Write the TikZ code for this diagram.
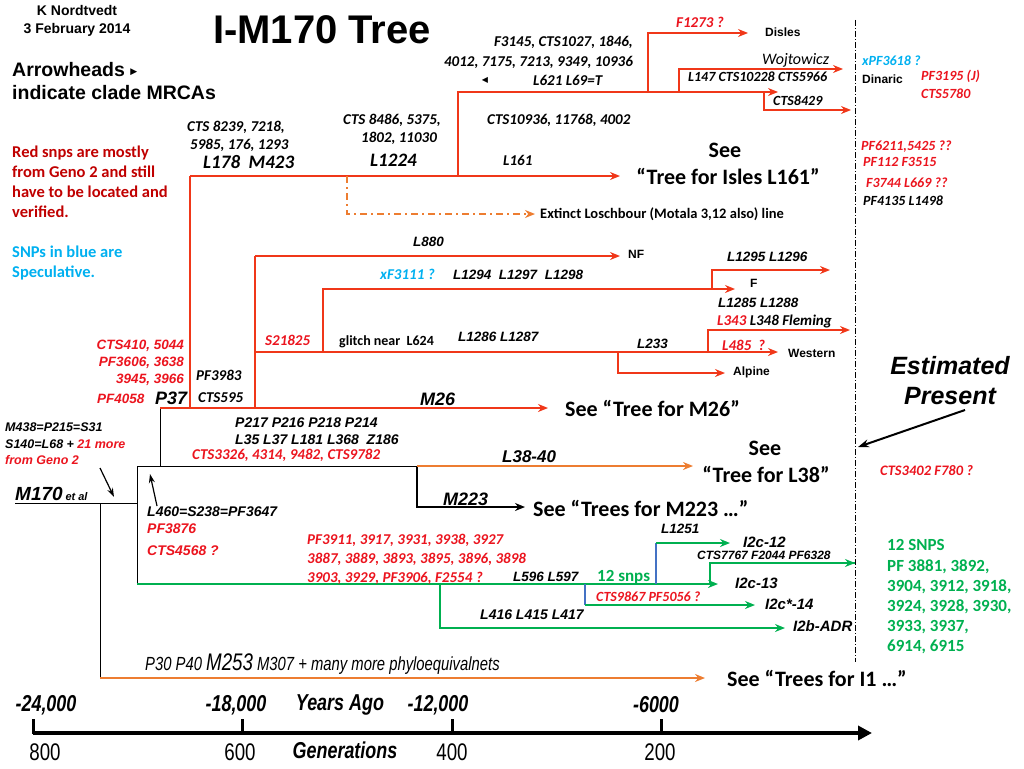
\documentclass[tikz,border=0pt]{standalone}
\usepackage{fontspec}
\setmainfont{Carlito}
\newfontfamily\arialf{Liberation Sans}
\newfontfamily\narrowf[FakeStretch=0.78]{Liberation Sans}
\newfontfamily\symf{DejaVu Sans}
\usetikzlibrary{arrows.meta}

\definecolor{treered}{RGB}{240,55,25}
\definecolor{snpred}{RGB}{235,20,30}
\definecolor{darkred}{RGB}{192,0,0}
\definecolor{lineorange}{RGB}{237,125,49}
\definecolor{snpgreen}{RGB}{0,176,80}
\definecolor{specblue}{RGB}{0,176,240}
\definecolor{lineblue}{RGB}{68,114,196}

\tikzset{
  snp/.style={inner sep=0pt, anchor=west, font=\bfseries\itshape\fontsize{15}{17}\selectfont},
  snpr/.style={snp, text=snpred},
  snpa/.style={inner sep=0pt, anchor=west, font=\arialf\bfseries\itshape\fontsize{13.5}{16}\selectfont},
  snpar/.style={snpa, text=snpred},
  big/.style={inner sep=0pt, anchor=west, font=\bfseries\itshape\fontsize{19}{21}\selectfont},
  biga/.style={inner sep=0pt, anchor=west, font=\arialf\bfseries\itshape\fontsize{18}{20}\selectfont},
  clade/.style={inner sep=0pt, anchor=west, font=\arialf\bfseries\fontsize{12}{14}\selectfont},
  see/.style={inner sep=0pt, font=\bfseries\fontsize{22}{26}\selectfont},
  note/.style={inner sep=0pt, anchor=west, align=left, font=\bfseries\fontsize{16.5}{20}\selectfont},
  axl/.style={inner sep=0pt, font=\narrowf\bfseries\itshape\fontsize{23}{25}\selectfont},
  gen/.style={inner sep=0pt, font=\narrowf\fontsize{24}{26}\selectfont},
  br/.style={draw=treered, line width=1.8pt},
  bra/.style={br, -{Stealth[length=10pt,width=8pt]}},
  gr/.style={draw=snpgreen, line width=1.8pt},
  gra/.style={gr, -{Stealth[length=10pt,width=8pt]}},
  bl/.style={draw=lineblue, line width=1.5pt},
  og/.style={draw=lineorange, line width=1.8pt, -{Stealth[length=10pt,width=8pt]}},
  blk/.style={draw=black, line width=1pt},
  pnt/.style={draw=black, line width=1.2pt, -{Stealth[length=9pt,width=6pt]}},
}

\begin{document}
\begin{tikzpicture}[x=1pt, y=-1pt]
    \useasboundingbox (0,0) rectangle (1024,768);
    % header and notes
    \node[inner sep=0pt, align=center, font=\arialf\bfseries\fontsize{14}{18}\selectfont] (author) at (77,21) {K Nordtvedt\\3 February 2014};
    \node[inner sep=0pt, font=\arialf\bfseries\fontsize{40}{44}\selectfont] (title) at (322,30) {I-M170 Tree};
    \node[note, font=\arialf\bfseries\fontsize{19.5}{23}\selectfont] (arrownote) at (12,81) {Arrowheads \raisebox{2pt}{\symf\fontsize{9}{9}\selectfont ▶}\\indicate clade MRCAs};
    \node[note, text=darkred] (rednote) at (12,182) {Red snps are mostly\\from Geno 2 and still\\have to be located and\\verified.};
    \node[note, text=specblue] (bluenote) at (12,263) {SNPs in blue are\\Speculative.};

    % tree points
    \coordinate (r0) at (15,503);
    \coordinate (rmid) at (137,503);
    \coordinate (rt) at (137,466);
    \coordinate (rb) at (137,584);
    \coordinate (i1) at (100,503);
    \coordinate (i1b) at (100,678);
    \coordinate (i1end) at (705,678);
    \coordinate (p37) at (160,408);
    \coordinate (p37b) at (160,466);
    \coordinate (m26end) at (548,408);
    \coordinate (l38) at (417,466);
    \coordinate (l38end) at (693,466);
    \coordinate (m223end) at (525,507);
    \coordinate (s190) at (190,408);
    \coordinate (l178) at (190,176);
    \coordinate (l178end) at (620,176);
    \coordinate (ex) at (347,176);
    \coordinate (exend) at (535,214);
    \coordinate (l621) at (458,176);
    \coordinate (l621end) at (778,92);
    \coordinate (f1273) at (648,92);
    \coordinate (dislesend) at (748,33);
    \coordinate (l147) at (679,92);
    \coordinate (dinend) at (843,69);
    \coordinate (cts8429) at (764,92);
    \coordinate (ctsend) at (851,110);
    \coordinate (s255) at (255,408);
    \coordinate (l880) at (255,256);
    \coordinate (l880end) at (620,256);
    \coordinate (s21825) at (255,352);
    \coordinate (westend) at (778,352);
    \coordinate (xf) at (323,352);
    \coordinate (fend) at (735,289);
    \coordinate (l1295) at (712,289);
    \coordinate (l1295end) at (830,270);
    \coordinate (l233) at (618,352);
    \coordinate (alpend) at (725,373);
    \coordinate (l343) at (708,352);
    \coordinate (flemend) at (850,330);
    \coordinate (ga) at (440,584);
    \coordinate (i2bend) at (785,628);
    \coordinate (gb) at (585,584);
    \coordinate (gb2) at (585,605);
    \coordinate (i2c14end) at (755,605);
    \coordinate (gc) at (656,584);
    \coordinate (gc2) at (656,543);
    \coordinate (i2c12end) at (730,543);
    \coordinate (gd) at (710,584);
    \coordinate (i2cend) at (855,563);
    \coordinate (i2c13end) at (718,584);

    % black root
    \draw[blk] (r0) -- (rmid);
    \draw[blk] (rt) -- (rb);
    \draw[blk] (i1) -- (i1b);
    \draw[blk] (p37) -- (p37b);
    \draw[blk] (rt) -- (l38);
    \draw[draw=black, line width=1.8pt, -{Stealth[length=10pt,width=8pt]}] (l38) |- (m223end);
    \draw[og] (l38) -- (l38end);
    \draw[og] (i1b) -- (i1end);

    % red branches
    \draw[bra] (p37) -- (m26end);
    \draw[br] (s190) -- (l178);
    \draw[bra] (l178) -- (l178end);
    \draw[draw=lineorange, line width=1.8pt, dash pattern=on 7pt off 4pt on 2pt off 4pt, -{Stealth[length=10pt,width=8pt]}] (ex) |- (exend);
    \draw[bra] (l621) |- (l621end);
    \draw[bra] (f1273) |- (dislesend);
    \draw[bra] (l147) |- (dinend);
    \draw[bra] (cts8429) |- (ctsend);
    \draw[br] (s255) -- (l880);
    \draw[bra] (l880) -- (l880end);
    \draw[bra] (s21825) -- (westend);
    \draw[bra] (xf) |- (fend);
    \draw[bra] (l1295) |- (l1295end);
    \draw[bra] (l233) |- (alpend);
    \draw[bra] (l343) |- (flemend);

    % green branches
    \draw[gra] (rb) -- (i2c13end);
    \draw[gra] (ga) |- (i2bend);
    \draw[bl] (gb) -- (gb2);
    \draw[gra] (gb2) -- (i2c14end);
    \draw[bl] (gc) -- (gc2);
    \draw[gra] (gc2) -- (i2c12end);
    \draw[gr] (gd) |- (i2cend);
    \draw[gra] (gd |- i2cend) -- (i2cend);

    % present line
    \coordinate (pres1) at (855,20);
    \coordinate (pres2) at (855,662);
    \draw[line width=0.8pt, dash pattern=on 6pt off 2pt on 1pt off 2pt] (pres1) -- (pres2);

    % upper labels
    \node[snpr] (f1273l) at (676,22) {F1273 ?};
    \node[clade] (disles) at (765,32) {Disles};
    \node[snp, anchor=east] (f3145) at (633,42) {F3145, CTS1027, 1846,};
    \node[snp, anchor=east] (n4012) at (633,62) {4012, 7175, 7213, 9349, 10936};
    \node[inner sep=0pt, font=\symf\fontsize{8}{8}\selectfont] (lefttri) at (485,80) {◀};
    \node[snp] (l621l) at (533,80) {L621 L69=T};
    \node[snp] (cts10936) at (487,120) {CTS10936, 11768, 4002};
    \node[inner sep=0pt, anchor=west, font=\itshape\fontsize{16}{18}\selectfont] (wojt) at (762,60) {Wojtowicz};
    \node[snp, font=\bfseries\itshape\fontsize{14}{16}\selectfont] (l147l) at (688,77) {L147 CTS10228 CTS5966};
    \node[snp, font=\bfseries\itshape\fontsize{14}{16}\selectfont] (cts8429l) at (773,101) {CTS8429};
    \node[snp, text=specblue, font=\bfseries\itshape\fontsize{14}{16}\selectfont] (xpf) at (862,61) {xPF3618 ?};
    \node[clade] (dinaric) at (862,79) {Dinaric};
    \node[snpr, font=\bfseries\itshape\fontsize{14}{16}\selectfont] (pf3195) at (921,76) {PF3195 (J)};
    \node[snpr, font=\bfseries\itshape\fontsize{14}{16}\selectfont] (cts5780) at (921,94) {CTS5780};
    \node[snp] (cts8486) at (343,120) {CTS 8486, 5375,};
    \node[snp] (n1802) at (361,138) {1802, 11030};
    \node[big] (l1224) at (370,160) {L1224};
    \node[snp] (cts8239) at (187,127) {CTS 8239, 7218,};
    \node[snp] (n5985) at (190,145) {5985, 176, 1293};
    \node[big] (l178l) at (203,162) {L178~~M423};
    \node[snp] (l161) at (503,160) {L161};
    \node[see] (seeisles) at (725,150) {See};
    \node[see] (isles) at (728,176) {“Tree for Isles L161”};
    \node[snpr, font=\bfseries\itshape\fontsize{14}{16}\selectfont] (pf6211) at (861,147) {PF6211,5425 ??};
    \node[snpr, font=\bfseries\itshape\fontsize{14}{16}\selectfont] (pf112) at (863,162) {PF112 F3515};
    \node[snpr, font=\bfseries\itshape\fontsize{14}{16}\selectfont] (f3744) at (866,183) {F3744 L669 ??};
    \node[snp, font=\bfseries\itshape\fontsize{14}{16}\selectfont] (pf4135) at (863,201) {PF4135 L1498};
    \node[inner sep=0pt, anchor=west, font=\bfseries\fontsize{14.5}{16}\selectfont] (extinct) at (540,214) {Extinct Loschbour (Motala 3,12 also) line};

    % middle labels
    \node[snpa] (l880l) at (413,242) {L880};
    \node[clade] (nf) at (628,254) {NF};
    \node[snp, text=specblue] (xf3111) at (380,274) {xF3111 ?};
    \node[snpa] (l1294) at (453,275) {L1294~~L1297~~L1298};
    \node[snpa] (l1295l) at (727,257) {L1295 L1296};
    \node[clade] (fclade) at (750,283) {F};
    \node[snpa] (l1285) at (718,303) {L1285 L1288};
    \node[snp] (l343l) at (717,321) {\textcolor{snpred}{L343} L348 Fleming};
    \node[snpr] (l485) at (722,345) {L485~~?};
    \node[clade] (western) at (788,353) {Western};
    \node[clade] (alpine) at (733,372) {Alpine};
    \node[snpa] (l233l) at (637,344) {L233};
    \node[snpa] (l1286) at (458,337) {L1286 L1287};
    \node[inner sep=0pt, anchor=west, font=\bfseries\fontsize{14}{16}\selectfont] (glitch) at (339,342) {glitch near~~L624};
    \node[snpr] (s21825l) at (265,340) {S21825};
    \node[snp] (pf3983) at (196,375) {PF3983};
    \node[snp] (cts595) at (198,398) {CTS595};
    \node[snpar, anchor=east] (cts410) at (184,346) {CTS410, 5044};
    \node[snpar, anchor=east] (pf3606) at (184,363) {PF3606, 3638};
    \node[snpar, anchor=east] (n3945) at (184,380) {3945, 3966};
    \node[snpar] (pf4058) at (97,399) {PF4058};
    \node[biga] (p37l) at (155,398) {P37};
    \node[biga] (m26l) at (420,399) {M26};
    \node[see, anchor=west] (seem26) at (565,408) {See “Tree for M26”};
    \node[snpa, font=\arialf\bfseries\itshape\fontsize{14}{16}\selectfont] (p217) at (235,423) {P217 P216 P218 P214};
    \node[snpa, font=\arialf\bfseries\itshape\fontsize{14}{16}\selectfont] (l35) at (235,440) {L35 L37 L181 L368~~Z186};
    \node[snpr] (cts3326) at (192,455) {CTS3326, 4314, 9482, CTS9782};
    \node[biga, font=\arialf\bfseries\itshape\fontsize{17}{20}\selectfont] (l3840) at (502,457) {L38-40};
    \node[see] (seel38a) at (765,448) {See};
    \node[see] (seel38b) at (766,474) {“Tree for L38”};
    \node[biga] (m223l) at (443,499) {M223};
    \node[see, anchor=west] (seem223) at (533,508) {See “Trees for M223 …”};

    % root labels
    \node[snpa, align=left, font=\arialf\bfseries\itshape\fontsize{12.5}{16.5}\selectfont] (m438) at (5,444) {M438=P215=S31\\S140=L68 + \textcolor{snpred}{21 more}\\\textcolor{snpred}{from Geno 2}};
    \node[inner sep=1pt, anchor=south west, font=\arialf\bfseries\itshape] (m170) at (14,502) {{\fontsize{19}{20}\selectfont M170} {\fontsize{11}{12}\selectfont et al}};
    \node[snpa, font=\arialf\bfseries\itshape\fontsize{14}{16}\selectfont] (l460) at (147,512) {L460=S238=PF3647};
    \node[snpar, font=\arialf\bfseries\itshape\fontsize{14}{16}\selectfont] (pf3876) at (147,529) {PF3876};
    \node[snpar, font=\arialf\bfseries\itshape\fontsize{14}{16}\selectfont] (cts4568) at (147,551) {CTS4568 ?};
    \coordinate (m438a) at (100,468);
    \coordinate (m438b) at (114,497);
    \draw[pnt] (m438a) -- (m438b);
    \coordinate (l460a) at (157,506);
    \coordinate (l460b) at (150,474);
    \draw[pnt] (l460a) -- (l460b);

    % green clade labels
    \node[snpr] (pf3911) at (307,540) {PF3911, 3917, 3931, 3938, 3927};
    \node[snpr] (n3887) at (307,559) {3887, 3889, 3893, 3895, 3896, 3898};
    \node[snpr] (n3903) at (307,578) {3903, 3929, PF3906, F2554 ?};
    \node[snpa] (l596) at (513,577) {L596 L597};
    \node[inner sep=0pt, anchor=west, text=snpgreen, font=\bfseries\fontsize{17}{19}\selectfont] (snps12) at (597,577) {12 snps};
    \node[snpa] (l1251) at (661,529) {L1251};
    \node[snpa, font=\arialf\bfseries\itshape\fontsize{15}{17}\selectfont] (i2c12) at (743,542) {I2c-12};
    \node[snpa, font=\arialf\bfseries\itshape\fontsize{12}{14}\selectfont] (cts7767) at (697,555) {CTS7767 F2044 PF6328};
    \node[snpa, font=\arialf\bfseries\itshape\fontsize{15}{17}\selectfont] (i2c13) at (735,583) {I2c-13};
    \node[snpr, font=\bfseries\itshape\fontsize{14}{16}\selectfont] (cts9867) at (596,597) {CTS9867 PF5056 ?};
    \node[snpa, font=\arialf\bfseries\itshape\fontsize{15}{17}\selectfont] (i2c14) at (765,604) {I2c*-14};
    \node[snpa, font=\arialf\bfseries\itshape\fontsize{14}{16}\selectfont] (l416) at (480,615) {L416 L415 L417};
    \node[snpa, font=\arialf\bfseries\itshape\fontsize{15}{17}\selectfont] (i2b) at (793,626) {I2b-ADR};
    \node[note, text=snpgreen, font=\bfseries\fontsize{17}{20.2}\selectfont] (snplist) at (887,597) {12 SNPS\\PF 3881, 3892,\\3904, 3912, 3918,\\3924, 3928, 3930,\\3933, 3937,\\6914, 6915};

    % right side
    \node[inner sep=0pt, align=center, font=\arialf\bfseries\itshape\fontsize{25}{30}\selectfont] (estim) at (950,381) {Estimated\\Present};
    \coordinate (esta) at (965,410);
    \coordinate (estb) at (858,447);
    \draw[draw=black, line width=2pt, -{Stealth[length=11pt,width=8pt]}] (esta) -- (estb);
    \node[snpr, font=\bfseries\itshape\fontsize{14.5}{16}\selectfont] (cts3402) at (880,471) {CTS3402 F780 ?};

    % I1 line
    \node[inner sep=0pt, anchor=west, font=\narrowf\itshape\fontsize{19}{21}\selectfont] (p30) at (145,664) {P30 P40 {\fontsize{24}{26}\selectfont M253} M307 + many more phyloequivalnets};
    \node[see, anchor=west] (seei1) at (727,678) {See “Trees for I1 …”};

    % time axis
    \coordinate (ax0) at (33,733);
    \coordinate (ax1) at (872,733);
    \draw[line width=4pt, -{Triangle[length=14pt,width=14pt]}] (ax0) -- (ax1);
    \foreach \tx in {33,242,452,661}
        \draw[line width=3pt] (\tx,719) -- (\tx,734);
    \node[axl] (y24) at (46,705) {-24,000};
    \node[axl] (y18) at (236,705) {-18,000};
    \node[axl] (yago) at (340,705) {Years Ago};
    \node[axl] (y12) at (438,705) {-12,000};
    \node[axl] (y6) at (656,705) {-6000};
    \node[gen] (g800) at (45,752) {800};
    \node[gen] (g600) at (240,752) {600};
    \node[axl] (gens) at (345,750) {Generations};
    \node[gen] (g400) at (452,752) {400};
    \node[gen] (g200) at (660,752) {200};
\end{tikzpicture}
\end{document}
